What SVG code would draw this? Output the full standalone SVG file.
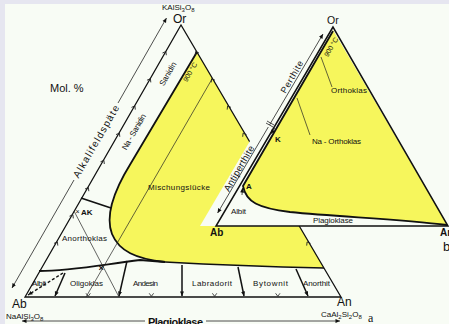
<svg xmlns="http://www.w3.org/2000/svg" width="449" height="324" viewBox="0 0 449 324">
<defs>
<style>
.t{font-family:"Liberation Sans",Arial,sans-serif;fill:#111}
.s{font-size:8px}
.b{font-weight:bold}
.edge{fill:none;stroke:#111;stroke-width:1.3}
.thick{fill:none;stroke:#111;stroke-width:1.8}
.thin{fill:none;stroke:#222;stroke-width:0.7}
.tick{fill:none;stroke:#222;stroke-width:0.8}
.yel{fill:#f6f65c}
.bg{fill:#f8fcf5}
</style>
<marker id="ah" viewBox="0 0 10 10" refX="10" refY="5" markerWidth="5" markerHeight="4.5" markerUnits="userSpaceOnUse" orient="auto"><path d="M0,0.5 L10,5 L0,9.5 z" fill="#111"/></marker>
<path id="chev" d="M-2.2,-2.2 L0,0.8 L2.2,-2.2"/>
</defs>

<rect width="449" height="324" fill="#e6e6f0"/>
<rect x="5" y="4" width="444" height="320" class="bg"/>

<g id="triangle-a">
<path class="yel" d="M197,52 L131,163 C113,192 105,216 112,234 C119,251 136,259 165,262 C220,265 280,267 324,268 Z"/>
<path class="thick" d="M197,52 L131,163 C113,192 105,216 112,234 C119,251 136,259 165,262"/>
<path class="edge" d="M165,262 C220,265 280,267 324,268"/>
<path class="edge" d="M181,25 L25,297 L341,297 Z"/>
<path class="thick" d="M39,271 C70,271 100,265 140,260 L165,262"/>
<path class="thick" d="M81,198 L111,208"/>
<path class="thin" d="M74,211 L119,297"/>
<path class="thin" d="M212,79 L86,297"/>
</g>

<g id="connectors">
<path class="thick" style="stroke-width:1.5" d="M65,273 L55,296" marker-end="url(#ah)"/>
<path class="thick" style="stroke-width:1.5" d="M127,261 L119,296" marker-end="url(#ah)"/>
<path class="thick" style="stroke-width:1.5" d="M182,265 L182,296" marker-end="url(#ah)"/>
<path class="thick" style="stroke-width:1.5" d="M238,267 L244,296" marker-end="url(#ah)"/>
<path class="thick" style="stroke-width:1.5" d="M296,269 L308,296" marker-end="url(#ah)"/>
<path class="thick" style="stroke-width:1.4" stroke-dasharray="3,2" d="M63,273 L28,295" marker-end="url(#ah)"/>
<path class="thin" style="stroke-width:0.8" d="M74,180 L12,288" marker-end="url(#ah)"/>
<path class="thin" style="stroke-width:0.8" d="M118,103 L166.5,18" marker-end="url(#ah)"/>
<path class="thin" style="stroke-width:0.8" d="M145,321 L22,321" marker-end="url(#ah)"/>
<path class="thin" style="stroke-width:0.8" d="M206,321 L340,321" marker-end="url(#ah)"/>
</g>

<g id="ticks-a" class="tick">
<use href="#chev" transform="translate(88.2,295.5)"/>
<use href="#chev" transform="translate(151.4,295.5)"/>
<use href="#chev" transform="translate(214.6,295.5)"/>
<use href="#chev" transform="translate(277.8,295.5)"/>
<use href="#chev" transform="translate(57,242.6) rotate(-150)"/>
<use href="#chev" transform="translate(72.5,215.4) rotate(-150)"/>
<use href="#chev" transform="translate(88,188.2) rotate(-150)"/>
<use href="#chev" transform="translate(103.5,161) rotate(-150)"/>
<use href="#chev" transform="translate(119,133.8) rotate(-150)"/>
<use href="#chev" transform="translate(134.5,106.6) rotate(-150)"/>
<use href="#chev" transform="translate(150,79.4) rotate(-150)"/>
<use href="#chev" transform="translate(165.5,52.2) rotate(-150)"/>
<use href="#chev" transform="translate(196,52.2) rotate(150)"/>
<use href="#chev" transform="translate(212,79.4) rotate(150)"/>
<use href="#chev" transform="translate(228,106.6) rotate(150)"/>
<use href="#chev" transform="translate(243.5,133.8) rotate(150)"/>
<use href="#chev" transform="translate(307.5,242.6) rotate(150)"/>
</g>

<g id="labels-a">
<text class="t" x="162" y="10" font-size="8">KAlSi<tspan font-size="6" dy="1.5">3</tspan><tspan dy="-1.5">O</tspan><tspan font-size="6" dy="1.5">8</tspan></text>
<text class="t" x="173" y="23" font-size="12">Or</text>
<text class="t" x="50" y="92" font-size="11">Mol. %</text>
<text class="t" font-size="10" text-anchor="middle" textLength="82" transform="translate(96,141.5) rotate(-60)" y="3.5">Alkalifeldspäte</text>
<text class="t s" text-anchor="middle" textLength="26" transform="translate(168,74) rotate(-60)" y="2.5">Sanidin</text>
<text class="t s" text-anchor="middle" textLength="40" transform="translate(134,132) rotate(-60)" y="2.5">Na - Sanidin</text>
<text class="t" font-size="7" text-anchor="middle" textLength="21" transform="translate(190,72) rotate(-60)" y="2.5">900 °C</text>
<text class="t s" x="148" y="190" textLength="62">Mischungslücke</text>
<text class="t" x="75.5" y="213.5" font-size="7">×</text>
<text class="t s b" x="81" y="215">AK</text>
<text class="t s" x="62" y="241" textLength="45">Anorthoklas</text>
<text class="t b" x="98.5" y="271" font-size="9">×</text>
<text class="t s" x="32" y="286" textLength="14">Albit</text>
<text class="t s" x="70" y="286" textLength="33">Oligoklas</text>
<text class="t s" x="133" y="286" textLength="25">Andesin</text>
<text class="t s" x="192" y="286" textLength="40">Labradorit</text>
<text class="t s" x="253" y="286" textLength="35">Bytownit</text>
<text class="t s" x="303" y="286" textLength="27">Anorthit</text>
<text class="t" x="12" y="308" font-size="12">Ab</text>
<text class="t" x="6" y="319" font-size="8">NaAlSi<tspan font-size="6" dy="1.5">3</tspan><tspan dy="-1.5">O</tspan><tspan font-size="6" dy="1.5">8</tspan></text>
<text class="t" x="337" y="306" font-size="12">An</text>
<text class="t" x="321" y="317" font-size="8">CaAl<tspan font-size="6" dy="1.5">2</tspan><tspan dy="-1.5">Si</tspan><tspan font-size="6" dy="1.5">2</tspan><tspan dy="-1.5">O</tspan><tspan font-size="6" dy="1.5">8</tspan></text>
<text x="368" y="322" font-size="12" font-family="'Liberation Serif',serif" fill="#111">a</text>
<text class="t b" x="148" y="325.5" font-size="11" textLength="55">Plagioklase</text>
</g>

<g id="triangle-b">
<polygon class="bg" points="216,226 333,27 317,27 200,226"/>
<polygon class="bg" points="333,27 216,226 448,226"/>
<path class="yel" d="M333,30 L243,186 C246,202 258,208 290,212 C340,217 400,219 448,226 Z"/>
<path class="edge" style="stroke-width:1.5" d="M333,27 L216,226 L448,226 Z"/>
<path class="thick" d="M333,31 L243,186 C246,202 258,208 290,212 C340,217 400,219 447,225"/>
<path class="thin" d="M321,57 L332,87"/>
<path class="thin" d="M297,98 L310,135"/>
<path class="thin" style="stroke-width:0.8" d="M269.5,125 L323,34" marker-end="url(#ah)"/>
<path class="thin" style="stroke-width:0.8" d="M268.3,127 L217.6,213" marker-end="url(#ah)"/>
<path class="tick" d="M266,123 L273,127 M267,121 L274,125"/>
<path class="thin" style="stroke-width:0.8" d="M275,128 L270.5,134" marker-end="url(#ah)"/>
<path class="thin" style="stroke-width:0.8" d="M242,195 L242.5,188" marker-end="url(#ah)"/>
</g>

<g id="labels-b">
<text class="t" x="327" y="24" font-size="10.5">Or</text>
<text class="t" font-size="7" text-anchor="middle" textLength="21" transform="translate(331,47) rotate(-60)" y="2.5">900 °C</text>
<text class="t" font-size="9" text-anchor="middle" textLength="36" transform="translate(292,77) rotate(-60)" y="3">Perthite</text>
<text class="t" font-size="9.5" text-anchor="middle" textLength="51" transform="translate(239,168.5) rotate(-60)" y="3.2">Antiperthite</text>
<text class="t s" x="331" y="93" textLength="36">Orthoklas</text>
<text class="t s" x="312" y="144" textLength="49">Na - Orthoklas</text>
<text class="t s b" x="275" y="142">K</text>
<text class="t s b" x="246" y="189">A</text>
<text class="t s" x="231" y="214" textLength="15">Albit</text>
<text class="t s" x="313" y="223" textLength="40">Plagioklase</text>
<text class="t b" x="210" y="236" font-size="10">Ab</text>
<text class="t b" x="440" y="236" font-size="10">An</text>
<text class="t" x="443" y="251" font-size="13">b</text>
</g>
</svg>
